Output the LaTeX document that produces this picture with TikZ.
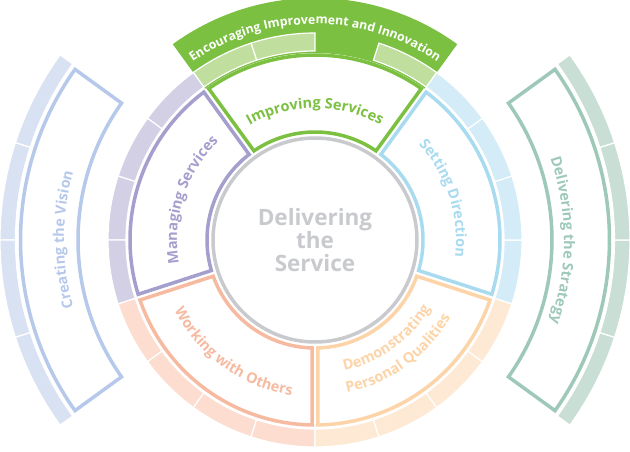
\documentclass[tikz,border=0pt]{standalone}
\usepackage{fontspec}
\setmainfont{Open Sans}
\usetikzlibrary{decorations.text}
\definecolor{improvecolor}{RGB}{124,192,66}
\definecolor{improvelight}{RGB}{192,223,158}
\definecolor{managecolor}{RGB}{165,159,206}
\definecolor{managelight}{RGB}{211,208,230}
\definecolor{directcolor}{RGB}{168,219,240}
\definecolor{directlight}{RGB}{212,236,247}
\definecolor{qualitycolor}{RGB}{253,212,168}
\definecolor{qualitylight}{RGB}{254,233,213}
\definecolor{otherscolor}{RGB}{246,186,160}
\definecolor{otherslight}{RGB}{252,221,207}
\definecolor{visioncolor}{RGB}{182,201,234}
\definecolor{visionlight}{RGB}{216,226,243}
\definecolor{strategycolor}{RGB}{158,201,184}
\definecolor{strategylight}{RGB}{201,223,214}
\definecolor{servicecolor}{RGB}{200,202,205}

\begin{document}
\begin{tikzpicture}[
  x=1pt, y=1pt,
  box/.style={line width=3.5pt, fill=white, line join=miter},
  seg/.style={draw=white, line width=1.2pt},
  arclabel/.style={decorate, decoration={text along path, text align=center}},
]

% ---------- common data ----------
\def\gap{3}      % half gap between neighbouring boxes
\def\lab{\bfseries\fontsize{14.5}{17}\selectfont}

\useasboundingbox (-315,-212) rectangle (315,240);

% ---------- top band ----------
\fill[improvecolor] (54:187) arc[start angle=54, end angle=126, radius=187]
  -- (126:242) arc[start angle=126, end angle=54, radius=242] -- cycle;

% ---------- light rings, four pieces per box ----------
\foreach \a/\ri/\ro/\lt in {-18/189/207/directlight, 54/189/207/improvelight,
    126/189/207/managelight, 198/189/207/otherslight, 270/189/207/qualitylight,
    144/299.5/315/visionlight, -36/299.5/315/strategylight} {
  \foreach \k in {0,...,3} {
    \pgfmathsetmacro{\s}{\a+18*\k}
    \pgfmathtruncatemacro{\hole}{(\s==72)}
    \ifnum\hole=0
      \filldraw[seg, fill=\lt] (\s:\ri) arc[start angle=\s, end angle={\s+18}, radius=\ri]
        -- ({\s+18}:\ro) arc[start angle={\s+18}, end angle=\s, radius=\ro] -- cycle;
    \fi
  }
}

% ---------- boxes ----------
\foreach \a/\b/\ri/\ro/\col in {-18/54/108/185/directcolor, 54/126/108/185/improvecolor,
    126/198/108/185/managecolor, 198/270/108/185/otherscolor, 270/342/108/185/qualitycolor,
    144/216/237/294.5/visioncolor, -36/36/237/294.5/strategycolor} {
  \pgfmathsetmacro{\gi}{asin(\gap/\ri)}
  \pgfmathsetmacro{\go}{asin(\gap/\ro)}
  \draw[box, draw=\col] ({\a+\gi}:\ri) -- ({\a+\go}:\ro)
    arc[start angle={\a+\go}, end angle={\b-\go}, radius=\ro]
    -- ({\b-\gi}:\ri)
    arc[start angle={\b-\gi}, end angle={\a+\gi}, radius=\ri] -- cycle;
}

% ---------- centre ----------
\draw[line width=3.5pt, draw=servicecolor, fill=white] (0,0) circle (102);
\node[font=\bfseries\fontsize{22.5}{23}\selectfont, text=servicecolor, align=center]
  (core) at (0,0) {Delivering\\the\\Service};

% ---------- labels along the arcs ----------
\path[arclabel, decoration={text color=white,
    text={|\bfseries\fontsize{12.3}{15}\selectfont|Encouraging Improvement and Innovation}}]
  (132:216) arc[start angle=132, end angle=48, radius=216];
\path[arclabel, decoration={text color=improvecolor, text={|\lab|Improving Services}}]
  (126:132) arc[start angle=126, end angle=54, radius=132];
\path[arclabel, decoration={text color=managecolor, text={|\lab|Managing Services}}]
  (198:138) arc[start angle=198, end angle=126, radius=138];
\path[arclabel, decoration={text color=directcolor, text={|\lab|Setting Direction}}]
  (54:141) arc[start angle=54, end angle=-18, radius=141];
\path[arclabel, decoration={text color=otherscolor, text={|\lab|Working with Others}}]
  (198:157) arc[start angle=198, end angle=270, radius=157];
\path[arclabel, decoration={text color=qualitycolor, text={|\lab|Demonstrating}}]
  (270:134) arc[start angle=270, end angle=342, radius=134];
\path[arclabel, decoration={text color=qualitycolor, text={|\lab|Personal Qualities}}]
  (270:156) arc[start angle=270, end angle=342, radius=156];
\path[arclabel, decoration={text color=visioncolor, text={|\lab|Creating the Vision}}]
  (216:251) arc[start angle=216, end angle=144, radius=251];
\path[arclabel, decoration={text color=strategycolor, text={|\lab|Delivering the Strategy}}]
  (36:249) arc[start angle=36, end angle=-36, radius=249];

\end{tikzpicture}
\end{document}
